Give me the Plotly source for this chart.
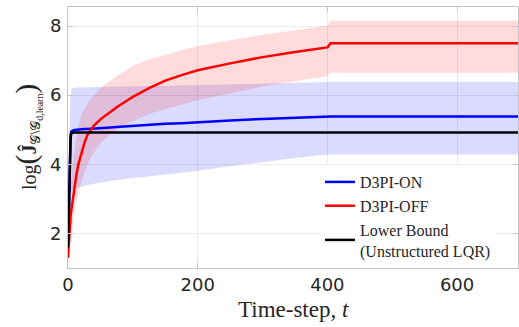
import plotly.graph_objects as go

# time grid (time-steps)
t = [0, 1, 2, 3, 4, 5, 6, 8, 10, 13, 16, 20, 25, 30, 35, 40, 50, 60, 75, 90, 100, 125, 150, 175, 200, 250, 300, 350, 400, 405, 694]

# D3PI-OFF (red)
off_mean = [1.3, 1.7, 2.0, 2.3, 2.5, 2.65, 2.8, 3.05, 3.3, 3.7, 4.0, 4.3, 4.6, 4.85, 5.0, 5.12, 5.3, 5.45, 5.65, 5.83, 5.95, 6.2, 6.42, 6.58, 6.72, 6.92, 7.1, 7.25, 7.38, 7.5, 7.5]
off_up   = [1.5, 2.3, 2.8, 3.2, 3.4, 3.6, 3.8, 4.1, 4.4, 4.8, 5.05, 5.4, 5.6, 5.77, 5.9, 6.0, 6.2, 6.35, 6.55, 6.72, 6.85, 7.03, 7.17, 7.3, 7.42, 7.58, 7.75, 7.88, 8.01, 8.15, 8.15]
off_lo   = [1.2, 1.35, 1.5, 1.65, 1.8, 1.9, 2.0, 2.3, 2.6, 2.95, 3.2, 3.45, 3.75, 4.0, 4.2, 4.35, 4.6, 4.78, 5.0, 5.17, 5.25, 5.45, 5.6, 5.73, 5.85, 6.05, 6.25, 6.4, 6.55, 6.65, 6.65]

# D3PI-ON (blue)
on_mean = [1.6, 2.6, 3.6, 4.4, 4.85, 4.95, 4.97, 4.98, 4.99, 5.0, 5.0, 5.01, 5.02, 5.02, 5.03, 5.04, 5.05, 5.06, 5.08, 5.1, 5.11, 5.14, 5.17, 5.19, 5.22, 5.27, 5.31, 5.35, 5.38, 5.38, 5.38]
on_up   = [1.6, 3.5, 4.8, 5.6, 6.0, 6.18, 6.2, 6.21, 6.22, 6.22, 6.22, 6.22, 6.22, 6.22, 6.23, 6.23, 6.24, 6.24, 6.25, 6.25, 6.25, 6.26, 6.27, 6.28, 6.29, 6.31, 6.33, 6.36, 6.38, 6.38, 6.38]
on_lo   = [1.6, 2.0, 2.4, 2.8, 3.1, 3.22, 3.25, 3.28, 3.3, 3.31, 3.33, 3.35, 3.37, 3.4, 3.42, 3.44, 3.47, 3.5, 3.54, 3.58, 3.6, 3.65, 3.7, 3.75, 3.81, 3.94, 4.07, 4.18, 4.28, 4.28, 4.28]

# Lower bound (black)
lb = [1.6, 2.5, 3.5, 4.3, 4.75, 4.88, 4.91, 4.92, 4.92, 4.92, 4.92, 4.92, 4.92, 4.92, 4.92, 4.92, 4.92, 4.92, 4.92, 4.92, 4.92, 4.92, 4.92, 4.92, 4.92, 4.92, 4.92, 4.92, 4.92, 4.92, 4.92]

xticks = [0, 200, 400, 600]
yticks = [2, 4, 6, 8]

SERIF = "Liberation Serif, DejaVu Serif, serif"

fig = go.Figure()
# blue band
fig.add_trace(go.Scatter(x=t, y=on_lo, mode="lines", line=dict(width=0), showlegend=False, hoverinfo="skip"))
fig.add_trace(go.Scatter(x=t, y=on_up, mode="lines", line=dict(width=0), fill="tonexty",
                         fillcolor="rgba(0,0,255,0.14)", showlegend=False, hoverinfo="skip"))
# red band
fig.add_trace(go.Scatter(x=t, y=off_lo, mode="lines", line=dict(width=0), showlegend=False, hoverinfo="skip"))
fig.add_trace(go.Scatter(x=t, y=off_up, mode="lines", line=dict(width=0), fill="tonexty",
                         fillcolor="rgba(255,0,0,0.14)", showlegend=False, hoverinfo="skip"))

fig.add_trace(go.Scatter(x=t, y=on_mean, mode="lines", line=dict(color="#0000ff", width=2.5), name="D3PI-ON"))
fig.add_trace(go.Scatter(x=t, y=off_mean, mode="lines", line=dict(color="#ff0000", width=2.5), name="D3PI-OFF"))
fig.add_trace(go.Scatter(x=t, y=lb, mode="lines", line=dict(color="#000000", width=2.5),
                         name="Lower Bound<br>(Unstructured LQR)"))

axis_common = dict(showgrid=True, gridcolor="#ebebeb", gridwidth=1, showline=True, linecolor="#c4c4c4",
                   linewidth=1, mirror="ticks", ticks="inside", ticklen=5, tickcolor="#c4c4c4",
                   zeroline=False, tickfont=dict(family="DejaVu Sans", size=18, color="#262626"))

fig.update_xaxes(range=[0, 694], tickvals=xticks, **axis_common)
fig.update_yaxes(range=[1, 8.55], tickvals=yticks, ticklabelstandoff=2, **axis_common)

fig.add_annotation(xref="paper", yref="paper", x=0.5, y=-0.158, xanchor="center", yanchor="middle",
                   text="Time-step, <i>t</i>", showarrow=False,
                   font=dict(family=SERIF, size=23, color="#262626"))
fig.add_annotation(xref="paper", yref="paper", x=-0.092, y=0.5, xanchor="center", yanchor="middle",
                   textangle=-90, showarrow=False,
                   text='log<span style="font-size:30px">(</span><b>Ĵ</b><sub>𝒢\\𝒢<sub>d,learn</sub></sub><span style="font-size:30px">)</span>',
                   font=dict(family=SERIF, size=20, color="#262626"))

fig.update_layout(
    width=519, height=327,
    margin=dict(l=67.5, r=0.5, t=7, b=59, autoexpand=False),
    plot_bgcolor="white", paper_bgcolor="white",
    legend=dict(x=0.56, y=0.0, xanchor="left", yanchor="bottom", bgcolor="white", borderwidth=0,
                traceorder="normal",
                font=dict(family=SERIF, size=16, color="#262626"), tracegroupgap=0),
)

fig.write_html("out.html", config={"displayModeBar": False},
               post_script="document.body.style.margin='0';document.body.style.overflow='hidden';")
